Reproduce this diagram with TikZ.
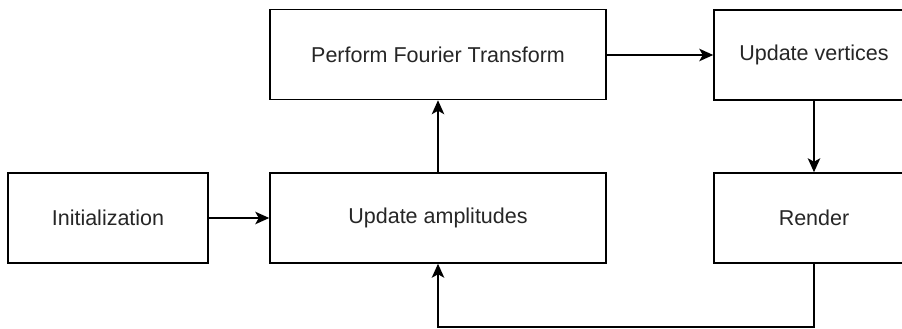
\documentclass[tikz,border=0pt]{standalone}
\usepackage{fontspec}
\setmainfont{Liberation Sans}
\usetikzlibrary{arrows.meta}
\tikzset{
  box/.style={draw=black, line width=1.5pt, fill=white, rectangle, minimum width=200pt, minimum height=90pt, inner sep=0pt, text=black!85, font=\fontsize{21.5}{26}\selectfont},
  wide/.style={box, minimum width=336pt},
  conn/.style={line width=1.5pt, -{Stealth[length=14pt, width=12.5pt, inset=3.5pt]}}
}
\begin{document}
\begin{tikzpicture}[x=1pt, y=-1pt]
\useasboundingbox (0,0) rectangle (902,329);
\clip (0,0) rectangle (902,329);
\node[box] (init) at (108,218) {Initialization};
\node[wide] (amp) at (438,218) {Update amplitudes};
\node[wide] (fft) at (438,54.5) {Perform Fourier Transform};
\node[box] (vert) at (814,55) {Update vertices};
\node[box] (rend) at (814,218) {Render};
\coordinate (c1) at (814,327);
\coordinate (c2) at (438,327);
\draw[conn] (init) -- (amp);
\draw[conn] (amp) -- (fft);
\draw[conn] (fft.east |- vert.west) -- (vert.west);
\draw[conn] (vert) -- (rend);
\draw[conn] (rend.south) -- (c1) -- (c2) -- (amp.south);
\end{tikzpicture}
\end{document}
